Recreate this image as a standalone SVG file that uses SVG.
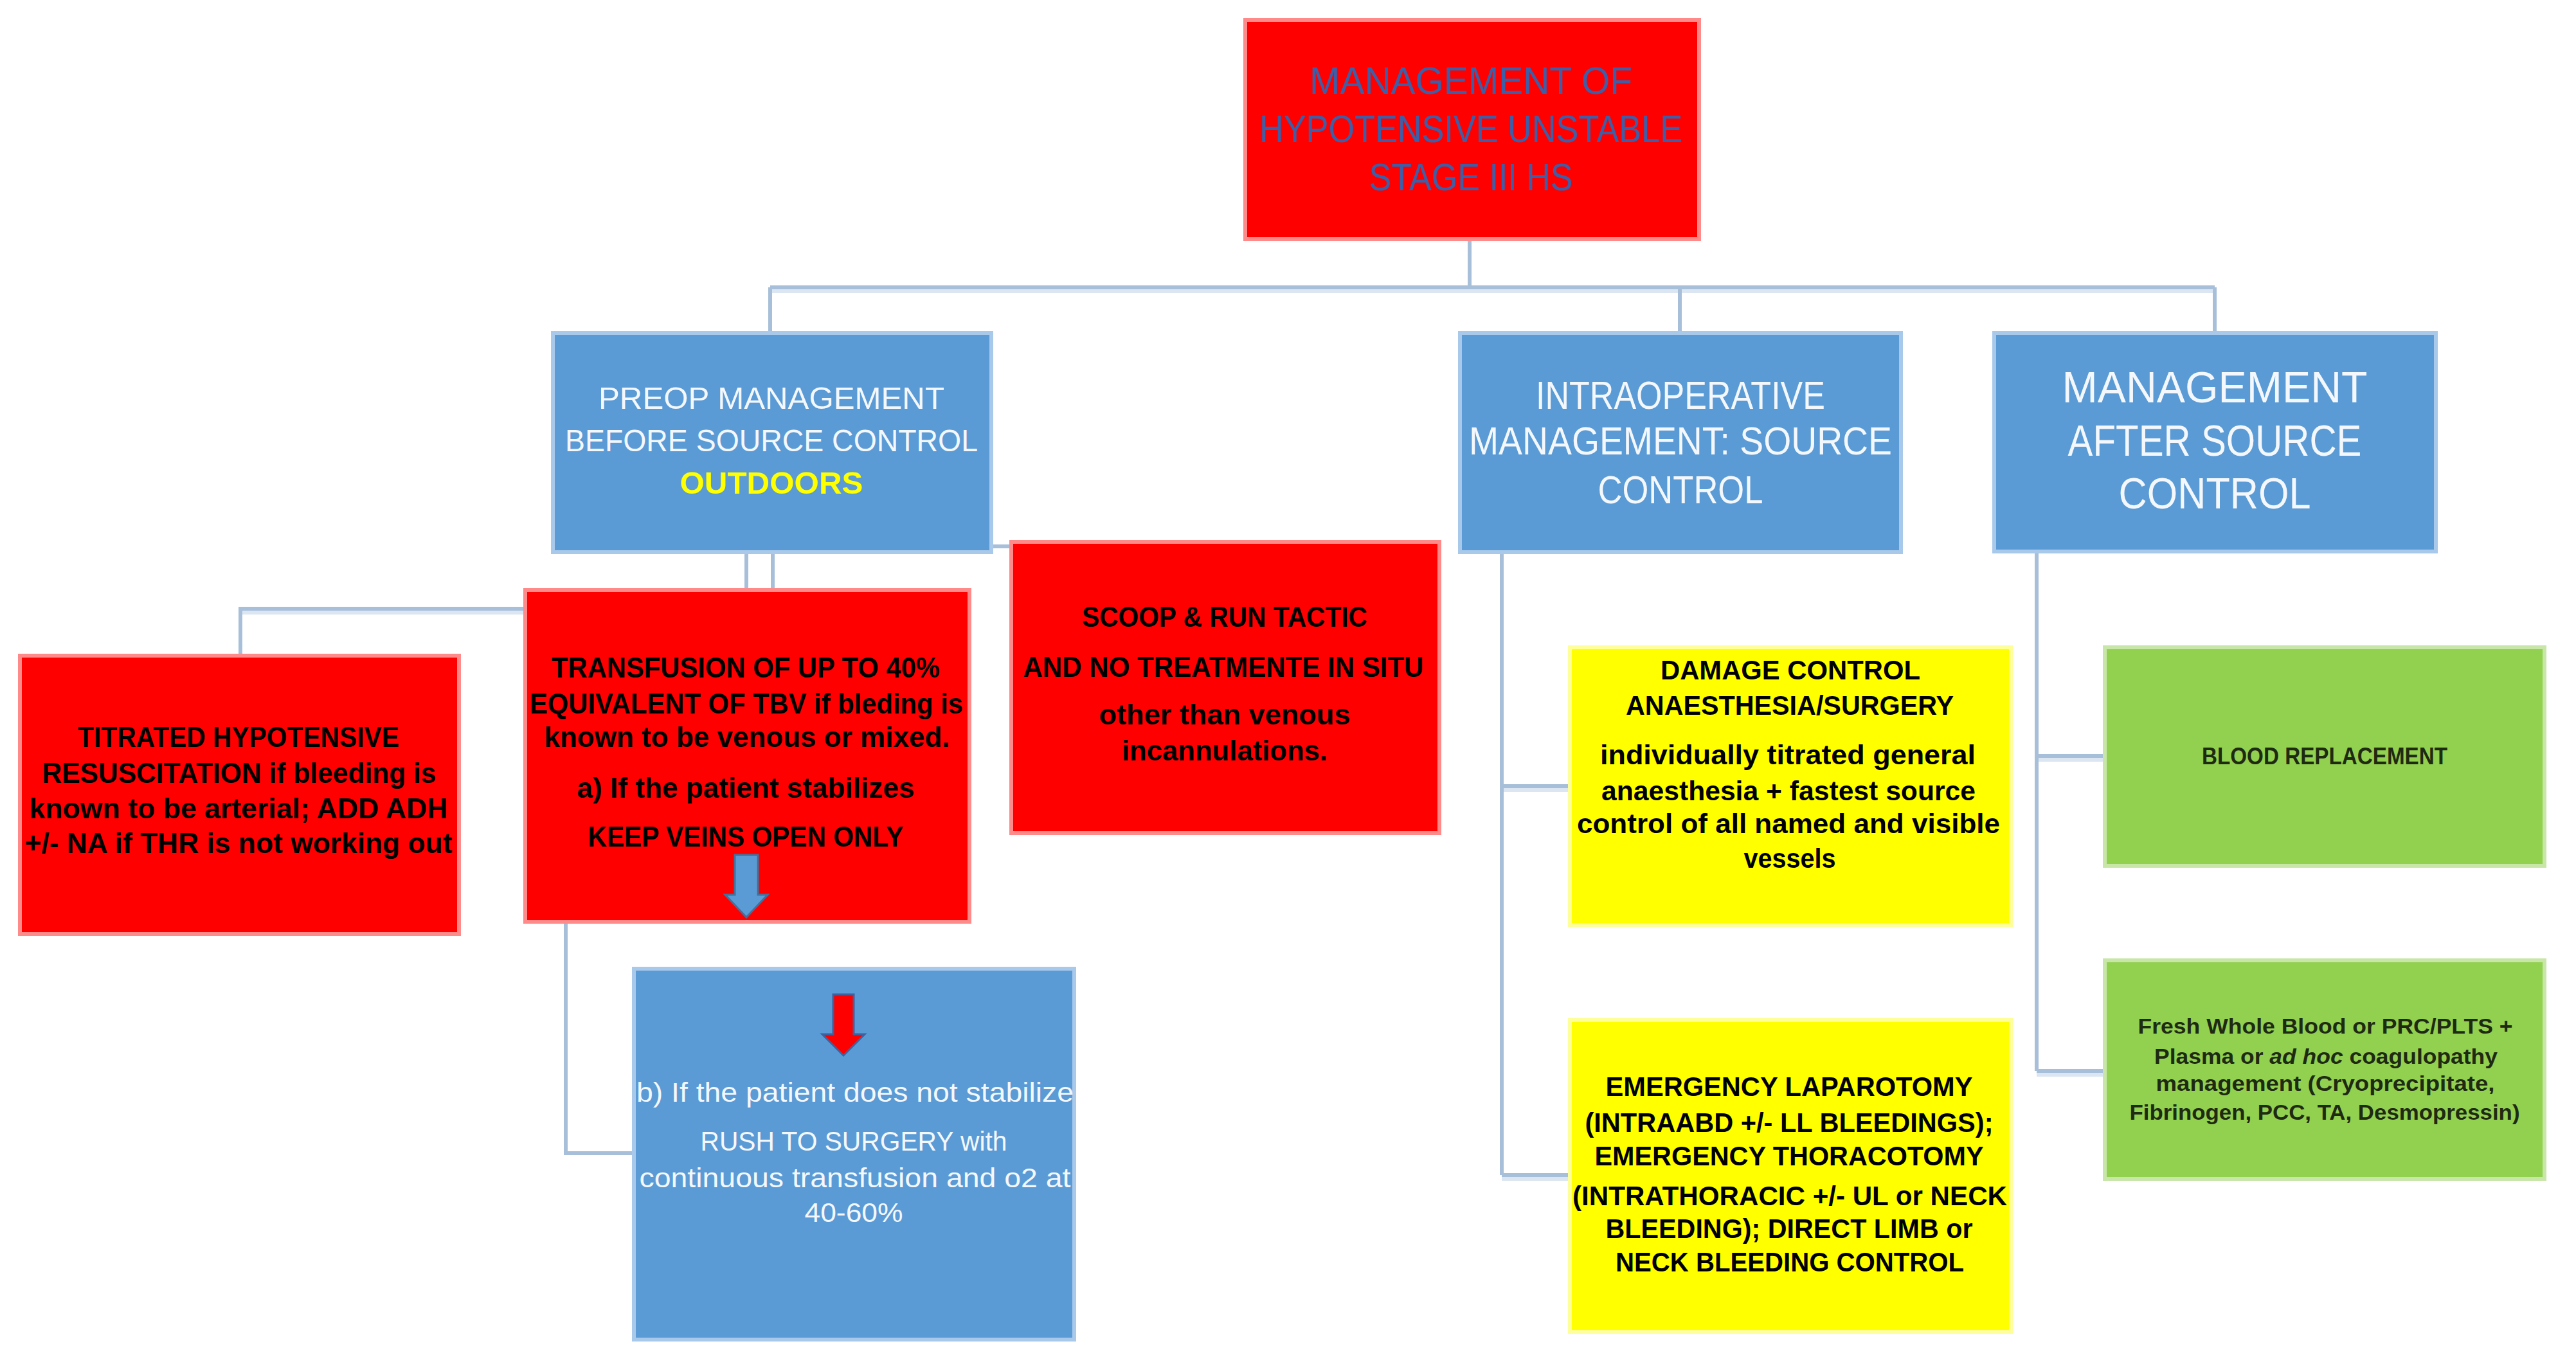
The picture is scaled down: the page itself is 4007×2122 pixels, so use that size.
<svg xmlns="http://www.w3.org/2000/svg" width="4007" height="2122" viewBox="0 0 4007 2122">
<style>
.bg{fill:#FFFFFF}
.red{fill:#FF0000;stroke:#FF8A8A;stroke-width:6}
.blue{fill:#5B9BD5;stroke:#A9C9EA;stroke-width:6}
.yel{fill:#FFFF00;stroke:#FFFF99;stroke-width:6}
.grn{fill:#92D050;stroke:#C8E6A8;stroke-width:6}
.c{fill:none;stroke:#A7BFD9;stroke-width:6}
.ch{fill:none;stroke:#DCE6F2;stroke-width:6}
text{font-family:"Liberation Sans",Arial,sans-serif;text-anchor:middle}
.tt{fill:#3D5FA8;font-size:60px}
.wt{fill:#F4F8FC}
.bk{fill:#000000;font-weight:bold}
.dk{fill:#1E2A12;font-weight:bold}
</style>
<rect class="bg" x="0" y="0" width="4007" height="2122"/>

<g id="connectors">
  <path class="ch" d="M1198,453 H3445"/>
  <path class="c" d="M2286,372 V447 M1198,447 H3445 M1198,447 V517 M2613,447 V517 M3445,447 V518"/>
  <path class="ch" d="M374,953 H816"/>
  <path class="c" d="M1161,859 V947 H374 V1018 M1202,859 V917 M1542,850 H1571"/>
  <path class="c" d="M880,1434 V1794 H984"/>
  <path class="ch" d="M2336,1229 H2440 M2336,1834 H2440"/>
  <path class="c" d="M2336,859 V1828 M2336,1223 H2440 M2336,1828 H2440"/>
  <path class="ch" d="M3168,1182 H3272 M3168,1672 H3272"/>
  <path class="c" d="M3168,858 V1666 M3168,1176 H3272 M3168,1666 H3272"/>
</g>

<g id="root">
  <rect class="red" x="1937" y="31" width="706" height="341"/>
  <text class="tt" x="2288" y="146" textLength="502" lengthAdjust="spacingAndGlyphs">MANAGEMENT OF</text>
  <text class="tt" x="2288" y="221" textLength="658" lengthAdjust="spacingAndGlyphs">HYPOTENSIVE UNSTABLE</text>
  <text class="tt" x="2288" y="296" textLength="317" lengthAdjust="spacingAndGlyphs">STAGE III HS</text>
</g>

<g id="preop">
  <rect class="blue" x="860" y="518" width="682" height="341"/>
  <text class="wt" x="1200" y="636" font-size="49" textLength="538" lengthAdjust="spacingAndGlyphs">PREOP MANAGEMENT</text>
  <text class="wt" x="1200" y="702" font-size="49" textLength="642" lengthAdjust="spacingAndGlyphs">BEFORE SOURCE CONTROL</text>
  <text x="1200" y="768" font-size="49" font-weight="bold" fill="#FFFF00" textLength="285" lengthAdjust="spacingAndGlyphs">OUTDOORS</text>
</g>

<g id="intraop">
  <rect class="blue" x="2271" y="518" width="686" height="341"/>
  <text class="wt" x="2614" y="636" font-size="62" textLength="450" lengthAdjust="spacingAndGlyphs">INTRAOPERATIVE</text>
  <text class="wt" x="2614" y="707" font-size="62" textLength="658" lengthAdjust="spacingAndGlyphs">MANAGEMENT: SOURCE</text>
  <text class="wt" x="2614" y="783" font-size="62" textLength="257" lengthAdjust="spacingAndGlyphs">CONTROL</text>
</g>

<g id="after">
  <rect class="blue" x="3102" y="518" width="687" height="340"/>
  <text class="wt" x="3445" y="626" font-size="68" textLength="475" lengthAdjust="spacingAndGlyphs">MANAGEMENT</text>
  <text class="wt" x="3445" y="709" font-size="68" textLength="457" lengthAdjust="spacingAndGlyphs">AFTER SOURCE</text>
  <text class="wt" x="3445" y="791" font-size="68" textLength="299" lengthAdjust="spacingAndGlyphs">CONTROL</text>
</g>

<g id="titrated">
  <rect class="red" x="31" y="1020" width="683" height="433"/>
  <text class="bk" x="371" y="1162" font-size="44" textLength="500" lengthAdjust="spacingAndGlyphs">TITRATED HYPOTENSIVE</text>
  <text class="bk" x="372" y="1218" font-size="44" textLength="613" lengthAdjust="spacingAndGlyphs">RESUSCITATION  if bleeding is</text>
  <text class="bk" x="371" y="1273" font-size="44" textLength="651" lengthAdjust="spacingAndGlyphs">known to be arterial; ADD ADH</text>
  <text class="bk" x="371" y="1327" font-size="44" textLength="665" lengthAdjust="spacingAndGlyphs">+/- NA if THR is not working out</text>
</g>

<g id="transfusion">
  <rect class="red" x="817" y="918" width="691" height="516"/>
  <text class="bk" x="1160" y="1054" font-size="44" textLength="604" lengthAdjust="spacingAndGlyphs">TRANSFUSION OF UP TO 40%</text>
  <text class="bk" x="1161" y="1110" font-size="44" textLength="674" lengthAdjust="spacingAndGlyphs">EQUIVALENT OF TBV if bleding is</text>
  <text class="bk" x="1162" y="1162" font-size="44" textLength="631" lengthAdjust="spacingAndGlyphs">known to be venous or mixed.</text>
  <text class="bk" x="1160" y="1241" font-size="44" textLength="525" lengthAdjust="spacingAndGlyphs">a) If the patient stabilizes</text>
  <text class="bk" x="1160" y="1317" font-size="44" textLength="491" lengthAdjust="spacingAndGlyphs">KEEP VEINS OPEN ONLY</text>
  <path d="M1143,1330 H1179 V1392 H1194 L1161,1427 L1128,1392 H1143 Z" fill="#5B9BD5" stroke="#41719C" stroke-width="3"/>
</g>

<g id="scoop">
  <rect class="red" x="1573" y="843" width="666" height="453"/>
  <text class="bk" x="1905" y="975" font-size="44" textLength="444" lengthAdjust="spacingAndGlyphs">SCOOP &amp; RUN TACTIC</text>
  <text class="bk" x="1903" y="1053" font-size="44" textLength="623" lengthAdjust="spacingAndGlyphs">AND NO TREATMENTE IN SITU</text>
  <text class="bk" x="1905" y="1127" font-size="44" textLength="391" lengthAdjust="spacingAndGlyphs">other than venous</text>
  <text class="bk" x="1905" y="1183" font-size="44" textLength="320" lengthAdjust="spacingAndGlyphs">incannulations.</text>
</g>

<g id="nostabilize">
  <rect class="blue" x="986" y="1507" width="685" height="577"/>
  <path d="M1296,1547 H1328 V1609 H1345 L1312,1642 L1279,1609 H1296 Z" fill="#FF0000" stroke="#41609C" stroke-width="3"/>
  <text class="wt" x="1330" y="1714" font-size="42" textLength="680" lengthAdjust="spacingAndGlyphs">b) If the patient does not stabilize</text>
  <text class="wt" x="1328" y="1790" font-size="42" textLength="477" lengthAdjust="spacingAndGlyphs">RUSH TO SURGERY with</text>
  <text class="wt" x="1330" y="1847" font-size="42" textLength="671" lengthAdjust="spacingAndGlyphs">continuous transfusion and o2 at</text>
  <text class="wt" x="1328" y="1901" font-size="42" textLength="153" lengthAdjust="spacingAndGlyphs">40-60%</text>
</g>

<g id="damage">
  <rect class="yel" x="2442" y="1007" width="686" height="432"/>
  <text class="bk" x="2785" y="1057" font-size="42" textLength="404" lengthAdjust="spacingAndGlyphs">DAMAGE CONTROL</text>
  <text class="bk" x="2784" y="1112" font-size="42" textLength="510" lengthAdjust="spacingAndGlyphs">ANAESTHESIA/SURGERY</text>
  <text class="bk" x="2781" y="1189" font-size="42" textLength="584" lengthAdjust="spacingAndGlyphs">individually titrated general</text>
  <text class="bk" x="2782" y="1245" font-size="42" textLength="582" lengthAdjust="spacingAndGlyphs">anaesthesia + fastest source</text>
  <text class="bk" x="2782" y="1296" font-size="42" textLength="658" lengthAdjust="spacingAndGlyphs">control of all named and visible</text>
  <text class="bk" x="2784" y="1350" font-size="42" textLength="143" lengthAdjust="spacingAndGlyphs">vessels</text>
</g>

<g id="emergency">
  <rect class="yel" x="2442" y="1587" width="686" height="485"/>
  <text class="bk" x="2783" y="1705" font-size="42" textLength="571" lengthAdjust="spacingAndGlyphs">EMERGENCY LAPAROTOMY</text>
  <text class="bk" x="2783" y="1761" font-size="42" textLength="635" lengthAdjust="spacingAndGlyphs">(INTRAABD +/- LL BLEEDINGS);</text>
  <text class="bk" x="2783" y="1813" font-size="42" textLength="605" lengthAdjust="spacingAndGlyphs">EMERGENCY THORACOTOMY</text>
  <text class="bk" x="2784" y="1875" font-size="42" textLength="676" lengthAdjust="spacingAndGlyphs">(INTRATHORACIC +/- UL or NECK</text>
  <text class="bk" x="2783" y="1926" font-size="42" textLength="571" lengthAdjust="spacingAndGlyphs">BLEEDING); DIRECT LIMB or</text>
  <text class="bk" x="2784" y="1978" font-size="42" textLength="542" lengthAdjust="spacingAndGlyphs">NECK BLEEDING CONTROL</text>
</g>

<g id="blood">
  <rect class="grn" x="3274" y="1007" width="684" height="340"/>
  <text class="dk" x="3616" y="1189" font-size="37" textLength="382" lengthAdjust="spacingAndGlyphs">BLOOD REPLACEMENT</text>
</g>

<g id="freshblood">
  <rect class="grn" x="3274" y="1494" width="684" height="340"/>
  <text class="dk" x="3617" y="1608" font-size="33" textLength="583" lengthAdjust="spacingAndGlyphs">Fresh Whole Blood  or PRC/PLTS +</text>
  <text class="dk" x="3618" y="1655" font-size="33" textLength="534" lengthAdjust="spacingAndGlyphs">Plasma  or <tspan font-style="italic">ad hoc</tspan> coagulopathy</text>
  <text class="dk" x="3617" y="1697" font-size="33" textLength="527" lengthAdjust="spacingAndGlyphs">management (Cryoprecipitate,</text>
  <text class="dk" x="3616" y="1742" font-size="33" textLength="607" lengthAdjust="spacingAndGlyphs">Fibrinogen, PCC, TA, Desmopressin)</text>
</g>
</svg>
